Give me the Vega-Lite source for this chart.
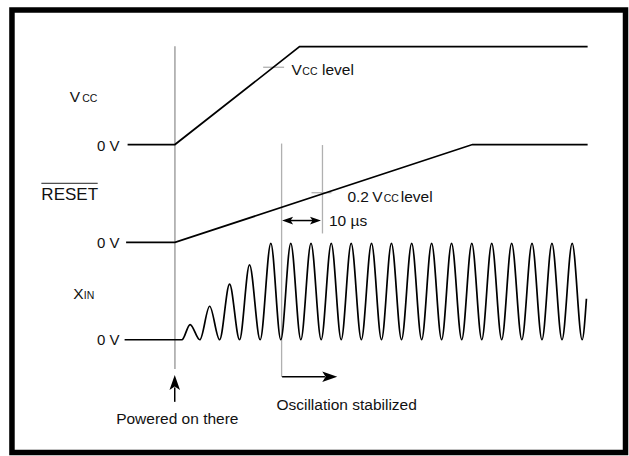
{
  "$schema": "https://vega.github.io/schema/vega-lite/v6.json",
  "width": 629,
  "height": 456,
  "autosize": {"type": "fit", "contains": "padding"},
  "padding": 0,
  "background": "white",
  "config": {"view": {"stroke": null}, "text": {"font": "Liberation Sans"}},
  "datasets": {
    "frame": [{"x": 12, "y": 10, "x2": 627.5, "y2": 455.5}],
    "levels": [
      {"signal": "VCC", "x": 128, "y": 145.5},
      {"signal": "VCC", "x": 175.5, "y": 145.5},
      {"signal": "VCC", "x": 300.5, "y": 47},
      {"signal": "VCC", "x": 589.5, "y": 47},
      {"signal": "RESET", "x": 126.5, "y": 244},
      {"signal": "RESET", "x": 175.5, "y": 244},
      {"signal": "RESET", "x": 474, "y": 145.5},
      {"signal": "RESET", "x": 589.5, "y": 145.5}
    ],
    "xin": [
      {"x": 125, "y": 342}, {"x": 182.5, "y": 342}, {"x": 190.7, "y": 326.7}, {"x": 200.5, "y": 342},
      {"x": 210.3, "y": 308.3}, {"x": 220.3, "y": 342}, {"x": 230.3, "y": 286}, {"x": 240.3, "y": 342},
      {"x": 250.3, "y": 266.7}, {"x": 261, "y": 342}, {"x": 271.7, "y": 245}, {"x": 281.7, "y": 342},
      {"x": 291.7, "y": 245}, {"x": 301.8, "y": 342}, {"x": 312, "y": 245}, {"x": 322.2, "y": 342},
      {"x": 332.3, "y": 245}, {"x": 342.3, "y": 342}, {"x": 352.3, "y": 245}, {"x": 362.5, "y": 342},
      {"x": 372.7, "y": 245}, {"x": 382.7, "y": 342}, {"x": 392.7, "y": 245}, {"x": 402.8, "y": 342},
      {"x": 413, "y": 245}, {"x": 423, "y": 342}, {"x": 433, "y": 245}, {"x": 443, "y": 342},
      {"x": 453, "y": 245}, {"x": 463.2, "y": 342}, {"x": 473.3, "y": 245}, {"x": 483.3, "y": 342},
      {"x": 493.3, "y": 245}, {"x": 503.3, "y": 342}, {"x": 513.3, "y": 245}, {"x": 523.5, "y": 342},
      {"x": 533.7, "y": 245}, {"x": 543.7, "y": 342}, {"x": 553.7, "y": 245}, {"x": 563.8, "y": 342},
      {"x": 574, "y": 245}, {"x": 584, "y": 342}, {"x": 588.3, "y": 300.7}
    ],
    "powerline": [{"x": 175.5, "y": 46.5, "x2": 175.5, "y2": 371.5}],
    "guides": [
      {"x": 282.5, "y": 144.5, "x2": 282.5, "y2": 379.5},
      {"x": 323.5, "y": 146, "x2": 323.5, "y2": 235},
      {"x": 264, "y": 67.7, "x2": 285, "y2": 67.7},
      {"x": 312.5, "y": 194, "x2": 332.5, "y2": 194}
    ],
    "shafts": [
      {"x": 283, "y": 379.3, "x2": 326, "y2": 379.3},
      {"x": 175.3, "y": 390, "x2": 175.3, "y2": 404.5},
      {"x": 287, "y": 222, "x2": 318, "y2": 222}
    ],
    "overline": [{"x": 41.5, "y": 184.5, "x2": 98, "y2": 184.5}],
    "bigheads": [
      {"x": 175.3, "y": 385, "angle": 0},
      {"x": 330.8, "y": 379.3, "angle": 90}
    ],
    "smallheads": [
      {"x": 288.5, "y": 222, "angle": 270},
      {"x": 316.5, "y": 222, "angle": 90}
    ],
    "rightlabels": [
      {"text": "0 V", "x": 120, "y": 152.5},
      {"text": "0 V", "x": 120, "y": 249.5},
      {"text": "0 V", "x": 120, "y": 347.5}
    ],
    "biglabels": [
      {"text": "V", "x": 70, "y": 102.5},
      {"text": "X", "x": 73.5, "y": 300.5},
      {"text": "V", "x": 292.5, "y": 75},
      {"text": "level", "x": 323, "y": 75},
      {"text": "0.2", "x": 348.5, "y": 203.5},
      {"text": "V", "x": 373.5, "y": 203.5},
      {"text": "level", "x": 402, "y": 203.5},
      {"text": "10 µs", "x": 330, "y": 227.5},
      {"text": "Powered on there", "x": 116.5, "y": 426.5},
      {"text": "Oscillation stabilized", "x": 277.3, "y": 413}
    ],
    "resetlabel": [{"text": "RESET", "x": 41.5, "y": 201.5}],
    "smalllabels": [
      {"text": "CC", "x": 82.5, "y": 102.5},
      {"text": "IN", "x": 84, "y": 300.5},
      {"text": "CC", "x": 303.3, "y": 75},
      {"text": "CC", "x": 385, "y": 203.5}
    ]
  },
  "encoding": {
    "x": {"field": "x", "type": "quantitative", "scale": {"domain": [0, 629], "nice": false, "zero": false}, "axis": null},
    "y": {"field": "y", "type": "quantitative", "scale": {"domain": [0, 456], "nice": false, "zero": false, "reverse": true}, "axis": null}
  },
  "layer": [
    {
      "data": {"name": "frame"},
      "mark": {"type": "rect", "fill": null, "filled": false, "stroke": "black", "strokeWidth": 5.5},
      "encoding": {"x2": {"field": "x2"}, "y2": {"field": "y2"}}
    },
    {
      "data": {"name": "powerline"},
      "mark": {"type": "rule", "color": "#8a8a8a", "strokeWidth": 1.2},
      "encoding": {"x2": {"field": "x2"}, "y2": {"field": "y2"}}
    },
    {
      "data": {"name": "guides"},
      "mark": {"type": "rule", "color": "#b0b0b0", "strokeWidth": 1.3},
      "encoding": {"x2": {"field": "x2"}, "y2": {"field": "y2"}}
    },
    {
      "data": {"name": "levels"},
      "mark": {"type": "line", "color": "black", "strokeWidth": 1.7},
      "encoding": {"detail": {"field": "signal"}}
    },
    {
      "data": {"name": "xin"},
      "mark": {"type": "line", "color": "black", "strokeWidth": 1.7, "interpolate": "monotone"},
      "encoding": {}
    },
    {
      "data": {"name": "shafts"},
      "mark": {"type": "rule", "color": "black", "strokeWidth": 1.5},
      "encoding": {"x2": {"field": "x2"}, "y2": {"field": "y2"}}
    },
    {
      "data": {"name": "overline"},
      "mark": {"type": "rule", "color": "#222", "strokeWidth": 1},
      "encoding": {"x2": {"field": "x2"}, "y2": {"field": "y2"}}
    },
    {
      "data": {"name": "bigheads"},
      "mark": {"type": "point", "filled": true, "color": "black", "opacity": 1, "size": 225, "shape": "M0,-1L0.7,1L0,0.55L-0.7,1Z"},
      "encoding": {"angle": {"field": "angle", "type": "quantitative", "scale": null}}
    },
    {
      "data": {"name": "smallheads"},
      "mark": {"type": "point", "filled": true, "color": "black", "opacity": 1, "size": 121, "shape": "M0,-1L0.7,1L0,0.55L-0.7,1Z"},
      "encoding": {"angle": {"field": "angle", "type": "quantitative", "scale": null}}
    },
    {
      "data": {"name": "rightlabels"},
      "mark": {"type": "text", "align": "right", "baseline": "alphabetic", "fontSize": 15, "color": "#111"},
      "encoding": {"text": {"field": "text"}}
    },
    {
      "data": {"name": "biglabels"},
      "mark": {"type": "text", "align": "left", "baseline": "alphabetic", "fontSize": 15.5, "color": "#111"},
      "encoding": {"text": {"field": "text"}}
    },
    {
      "data": {"name": "resetlabel"},
      "mark": {"type": "text", "align": "left", "baseline": "alphabetic", "fontSize": 17, "color": "#111"},
      "encoding": {"text": {"field": "text"}}
    },
    {
      "data": {"name": "smalllabels"},
      "mark": {"type": "text", "align": "left", "baseline": "alphabetic", "fontSize": 10.5, "color": "#111"},
      "encoding": {"text": {"field": "text"}}
    }
  ]
}
